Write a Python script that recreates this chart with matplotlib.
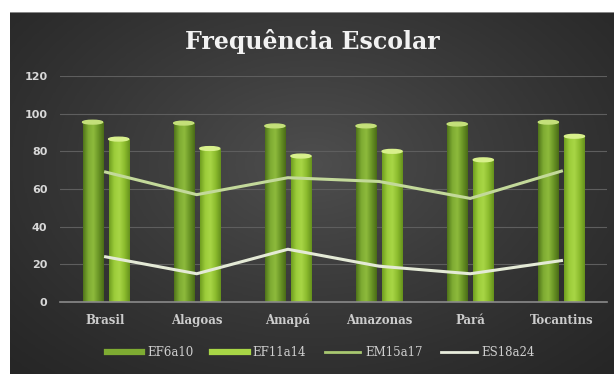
import numpy as np
import matplotlib
matplotlib.use('Agg')
import matplotlib.pyplot as plt
from matplotlib.colors import LinearSegmentedColormap
from matplotlib.patches import Ellipse
from matplotlib.lines import Line2D

categories = ['Brasil', 'Alagoas', 'Amapá', 'Amazonas', 'Pará', 'Tocantins']
ef6a10 = [95.5, 95, 93.5, 93.5, 94.5, 95.5]
ef11a14 = [86.5, 81.5, 77.5, 80, 75.5, 88]
em15a17 = [69, 57, 66, 64, 55, 69.5]
es18a24 = [24, 15, 28, 19, 15, 22]
y_ticks = [0, 20, 40, 60, 80, 100, 120]

W, H = 614, 374
fig = plt.figure(figsize=(W / 100, H / 100), dpi=100)
fig.patch.set_facecolor('white')

# dark radial background of the chart area
bg = fig.add_axes([10 / W, 0, (W - 10) / W, (H - 12) / H])
bg.set_axis_off()
yy, xx = np.mgrid[0:1:300j, 0:1:500j]
r = np.sqrt(((xx - 0.5) / 0.75) ** 2 + ((yy - 0.42) / 0.85) ** 2)
shade = np.clip(1 - r, 0, 1) ** 1.2
bg_cmap = LinearSegmentedColormap.from_list('bg', ['#262626', '#4e4e4e'])
bg.imshow(shade, cmap=bg_cmap, aspect='auto', extent=[0, 1, 0, 1], origin='upper')
bg.set_xlim(0, 1)
bg.set_ylim(0, 1)
bg.plot([0, 1], [1, 1], color='#9a9a9a', lw=1.2)

left, right = 60 / W, 607 / W
bottom, top = (H - 302) / H, (H - 76) / H
ax = fig.add_axes([left, bottom, right - left, top - bottom])
ax.patch.set_alpha(0)

x = np.arange(len(categories))
bw = 0.22
off = 0.143

cmap_dark = LinearSegmentedColormap.from_list('d', ['#4f741a', '#7eab32', '#8dba3c', '#6a9526', '#4a6c16'])
cmap_light = LinearSegmentedColormap.from_list('l', ['#6f9e20', '#9ccc3a', '#a8d646', '#8cbc2e', '#66921c'])
grad = np.linspace(0, 1, 64).reshape(1, -1)


def draw_bars(vals, pos, cmap, cap_color):
    bars = ax.bar(pos, vals, width=bw, color='#7aa830', zorder=2)
    for b in bars:
        x0, w, h = b.get_x(), b.get_width(), b.get_height()
        im = ax.imshow(grad, cmap=cmap, aspect='auto', extent=[x0, x0 + w, 0, h], zorder=2.1)
        im.set_clip_path(b)
        ax.add_patch(Ellipse((x0 + w / 2, h), w, 2.0, color=cap_color, zorder=2.2))


draw_bars(ef6a10, x - off, cmap_dark, '#c4e07a')
draw_bars(ef11a14, x + off, cmap_light, '#d8f08c')

ax.plot(x, em15a17, color='#c3d99a', lw=2.2, zorder=3, solid_joinstyle='round')
ax.plot(x, es18a24, color='#e4ead6', lw=2.2, zorder=3, solid_joinstyle='round')

ax.set_xlim(-0.5, len(categories) - 0.5)
ax.set_ylim(0, 120)
ax.set_yticks(y_ticks)
ax.yaxis.grid(True, color='#5e5e5e', lw=0.8)
ax.set_axisbelow(True)
for s in ['top', 'right', 'left']:
    ax.spines[s].set_visible(False)
ax.spines['bottom'].set_color('#8a8a8a')
ax.spines['bottom'].set_linewidth(1.2)
ax.tick_params(length=0)
ax.set_xticks(x)
ax.set_xticklabels(categories)
for lab in ax.get_xticklabels():
    lab.set_fontfamily('DejaVu Serif')
    lab.set_fontweight('bold')
    lab.set_fontsize(8.5)
    lab.set_color('#cccccc')
    lab.set_verticalalignment('baseline')
for lab in ax.get_yticklabels():
    lab.set_fontfamily('DejaVu Sans')
    lab.set_fontweight('bold')
    lab.set_fontsize(8)
    lab.set_color('#d8d8d8')
ax.tick_params(axis='x', pad=16)
ax.tick_params(axis='y', pad=9)

fig.text(312 / W, 1 - 42 / H, 'Frequência Escolar', ha='center', va='center',
         fontsize=17, fontweight='bold', family='DejaVu Serif', color='#f2f2f2')

handles = [
    Line2D([], [], color='#7eab32', lw=4.5),
    Line2D([], [], color='#a8d646', lw=4.5),
    Line2D([], [], color='#a8c870', lw=2),
    Line2D([], [], color='#e8ecdc', lw=2),
]
leg = fig.legend(handles, ['EF6a10', 'EF11a14', 'EM15a17', 'ES18a24'],
                 loc='center', bbox_to_anchor=(321 / W, 1 - 353 / H), ncol=4,
                 frameon=False, handlelength=3.0, handletextpad=0.4, columnspacing=1.6,
                 prop={'family': 'DejaVu Serif', 'size': 8.5})
for t in leg.get_texts():
    t.set_color('#d0d0d0')

fig.savefig('out.png', dpi=100)
